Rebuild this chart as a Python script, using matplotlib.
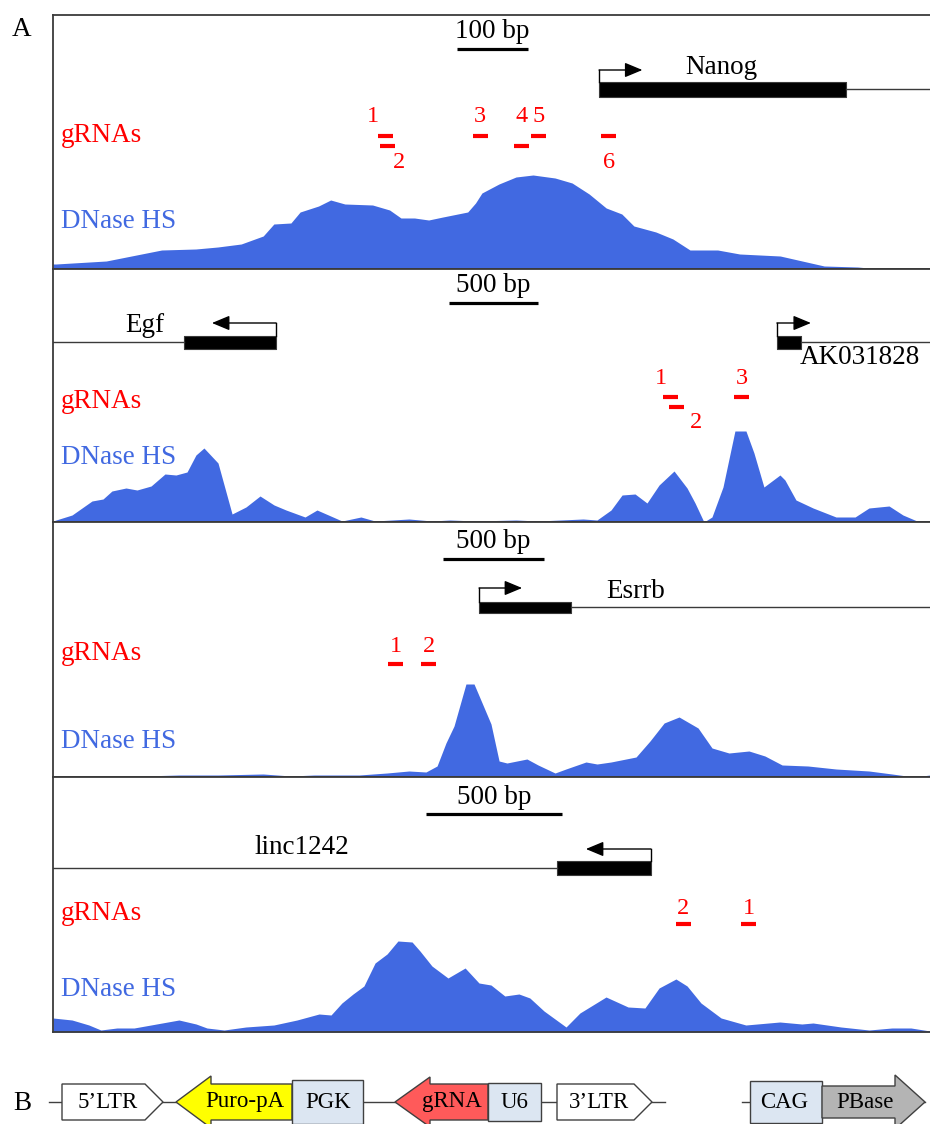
import numpy as np
import matplotlib.pyplot as plt
from matplotlib.patches import Polygon

plt.rcParams['font.family'] = ['Liberation Serif', 'DejaVu Serif']

# ---- panel A: four genomic windows (x in bp from window start, signal in arbitrary units)
spans = [1235, 4927, 4341, 3224]
bar_bp = [100, 500, 500, 500]
bar_start = [569, 2225, 1931, 1371]

sig_x = [
    [0, 4, 75, 153, 201, 232, 265, 296, 311, 335, 348, 374, 391, 411, 450, 474, 490, 509, 529, 549,
     584, 595, 604, 628, 652, 676, 707, 731, 755, 779, 801, 818, 849, 873, 897, 936, 967, 1024, 1055, 1086,
     1133, 1164, 1235],
    [0, 17, 107, 219, 281, 331, 410, 472, 551, 629, 691, 753, 803, 848, 927, 1006, 1084, 1163, 1242, 1309,
     1416, 1483, 1573, 1624, 1730, 1809, 2000, 2129, 2230, 2376, 2601, 2725, 2978, 3056, 3135, 3197, 3270,
     3337, 3405, 3489, 3562, 3607, 3657, 3702, 3764, 3831, 3893, 3938, 3994, 4084, 4112, 4174, 4270, 4399,
     4506, 4584, 4697, 4775, 4854, 4927],
    [0, 15, 262, 624, 817, 1040, 1178, 1292, 1515, 1653, 1762, 1846, 1901, 1945, 1985, 2044, 2084, 2124,
     2168, 2208, 2247, 2346, 2401, 2485, 2539, 2638, 2693, 2762, 2886, 2955, 3025, 3099, 3193, 3262, 3346,
     3445, 3524, 3609, 3737, 3876, 4039, 4153, 4262, 4341],
    [0, 70, 132, 176, 235, 298, 360, 463, 526, 566, 629, 709, 812, 897, 978, 1022, 1062, 1103, 1143, 1184,
     1228, 1268, 1320, 1349, 1393, 1452, 1515, 1566, 1610, 1661, 1713, 1753, 1805, 1886, 1937, 2033, 2114,
     2176, 2228, 2290, 2331, 2382, 2456, 2547, 2672, 2753, 2794, 2897, 3000, 3084, 3154, 3224],
]
sig_y = [
    [5, 5, 8, 19, 20, 22, 25, 33, 45, 46, 57, 63, 69, 65, 64, 59, 51, 51, 49, 52,
     57, 66, 76, 85, 92, 94, 91, 86, 75, 61, 55, 43, 37, 30, 19, 19, 15, 13, 8, 3, 2, 0, 0],
    [1, 2, 7, 21, 23, 31, 34, 32, 36, 48, 47, 50, 67, 74, 59, 8, 15, 26, 17, 12,
     5, 12, 5, 1, 5, 1, 3, 1, 2, 1, 2, 1, 3, 2, 12, 27, 28, 19, 37, 51,
     34, 19, 0, 5, 35, 91, 91, 69, 35, 47, 42, 22, 14, 5, 5, 14, 16, 7, 1, 1],
    [1, 1, 0, 2, 2, 3, 1, 2, 2, 4, 6, 5, 11, 34, 51, 93, 93, 74, 53, 16,
     14, 18, 12, 4, 8, 15, 13, 15, 20, 36, 54, 60, 49, 29, 24, 26, 21, 12, 11, 8, 6, 3, 0, 2],
    [14, 12, 7, 2, 4, 4, 7, 12, 8, 4, 2, 5, 7, 12, 18, 17, 29, 38, 46, 69,
     78, 91, 90, 81, 66, 54, 64, 49, 47, 36, 38, 34, 21, 5, 19, 35, 25, 24, 44, 53,
     46, 29, 14, 7, 10, 8, 9, 5, 2, 4, 4, 1],
]

gene_panel = [0, 1, 1, 2, 3]
gene_names = ['Nanog', 'Egf', 'AK031828', 'Esrrb', 'linc1242']
gene_start = [769, 736, 4067, 2109, 1853]
gene_end = [1117, 1253, 4202, 2564, 2198]
gene_strand = ['+', '-', '+', '+', '-']
gene_arrow_tip = [830, 893, 4258, 2322, 1959]
gene_label_x = [941, 517, 4534, 2886, 915]
gene_label_dy = [22, 17, -16, 16, 20]

grna_panel = [0, 0, 0, 0, 0, 0, 1, 1, 1, 2, 2, 3, 3]
grna_id = ['1', '2', '3', '4', '5', '6', '1', '2', '3', '1', '2', '2', '1']
grna_start = [458, 460, 591, 649, 673, 772, 3427, 3461, 3826, 1658, 1822, 2290, 2529]
grna_row = [0, 1, 0, 1, 0, 0, 0, 1, 0, 0, 0, 0, 0]
grna_lab_pos = ['up', 'down', 'up', 'up', 'up', 'down', 'up', 'down', 'up', 'up', 'up', 'up', 'up']
grna_lab_dx = [-13, 12, 0, 0, 0, 0, -10, 19, 0, 0, 0, 0, 0]

# ---- layout of the panels (pixels)
W, HF = 930, 1124
tops = [15, 269, 522, 777]
bottoms = [269, 522, 777, 1032]
bar_y = [220, 219, 218, 218]
bar_txt_y = [237, 236, 235, 235]
gene_y = [180, 180, 170, 164]
box_half = [7.5, 6.5, 5.5, 7]
row0_y = [133, 125, 113, 108]
lab_up_y = [152, 144, 131, 124]
lab_down_y = [106, 100, 0, 0]
grnas_txt_y = [134, 121, 124, 119]
dnase_txt_y = [47, 65, 36, 43]

BLUE = '#4169E1'
EDGE = '#3a3a3a'
FS = 19.5

fig = plt.figure(figsize=(W / 100, HF / 100), dpi=100)


def px_axes(left, top, right, bottom):
    return fig.add_axes([left / W, 1 - bottom / HF, (right - left) / W, (bottom - top) / HF])


axes = []
for i in range(4):
    ax = px_axes(53, tops[i], W, bottoms[i])
    h = bottoms[i] - tops[i]
    bpp = spans[i] / 877.0
    ax.set_xlim(0, spans[i])
    ax.set_ylim(0, h)
    ax.set_xticks([])
    ax.set_yticks([])
    for s in ['top', 'bottom', 'left']:
        ax.spines[s].set_color(EDGE)
        ax.spines[s].set_linewidth(1.3)
    ax.spines['right'].set_visible(False)

    ax.fill_between(sig_x[i], 0, sig_y[i], color=BLUE, lw=0)

    ax.text(8 * bpp, grnas_txt_y[i], 'gRNAs', color='red', fontsize=FS, va='center')
    ax.text(8 * bpp, dnase_txt_y[i], 'DNase HS', color=BLUE, fontsize=FS, va='center')

    # scale bar
    ax.plot([bar_start[i], bar_start[i] + bar_bp[i]], [bar_y[i]] * 2, color='k', lw=2.3,
            solid_capstyle='butt')
    ax.text(bar_start[i] + bar_bp[i] / 2, bar_txt_y[i], f'{bar_bp[i]} bp', fontsize=FS,
            ha='center', va='center')
    axes.append(ax)

# genes
for g in range(len(gene_names)):
    i = gene_panel[g]
    ax = axes[i]
    y = gene_y[i]
    hb = box_half[i]
    if gene_strand[g] == '+':
        ax.plot([gene_end[g], spans[i]], [y, y], color=EDGE, lw=1)
        tss = gene_start[g]
    else:
        ax.plot([0, gene_start[g]], [y, y], color=EDGE, lw=1)
        tss = gene_end[g]
    ax.fill_between([gene_start[g], gene_end[g]], y - hb, y + hb, color='k', lw=0.8,
                    edgecolor=EDGE)
    ya = y + 19
    ax.plot([tss, tss], [y + hb, ya], color='k', lw=1)
    ax.annotate('', xy=(gene_arrow_tip[g], ya), xytext=(tss, ya),
                arrowprops=dict(arrowstyle='-|>,head_length=0.6,head_width=0.25',
                                mutation_scale=18, color='k', lw=1, shrinkA=0, shrinkB=0))
    ax.text(gene_label_x[g], y + gene_label_dy[g], gene_names[g], fontsize=FS,
            ha='center', va='center')

# gRNAs
for k in range(len(grna_id)):
    i = grna_panel[k]
    ax = axes[i]
    bpp = spans[i] / 877.0
    w = 15 * bpp
    y = row0_y[i] - 10 * grna_row[k]
    ax.plot([grna_start[k], grna_start[k] + w], [y, y], color='red', lw=3,
            solid_capstyle='butt')
    ly = lab_up_y[i] if grna_lab_pos[k] == 'up' else lab_down_y[i]
    ax.text(grna_start[k] + w / 2 + grna_lab_dx[k] * bpp, ly, grna_id[k], color='red',
            fontsize=17.5, ha='center', va='center')

fig.text(22 / W, 1 - 30 / HF, 'A', fontsize=FS, ha='center', va='center')
fig.text(22 / W, 1 - 1103 / HF, 'B', fontsize=FS, ha='center', va='center')

# ---- panel B: vector constructs
b_names = ['5’LTR', 'Puro-pA', 'PGK', 'gRNA', 'U6', '3’LTR', 'CAG', 'PBase']
b_kind = ['ltr', 'left', 'box', 'left', 'box', 'ltr', 'box', 'right']
b_x0 = [62, 176, 292, 395, 488, 557, 750, 822]
b_x1 = [163, 292, 363, 488, 541, 652, 822, 925]
b_half = [18, 18, 22, 18, 19, 18, 21, 16]
b_head = [18, 35, 0, 35, 0, 18, 0, 30]
b_head_half = [0, 26, 0, 25, 0, 0, 0, 27]
b_colors = ['white', '#FFFF00', '#DCE6F2', '#FF5A5A', '#DCE6F2', 'white', '#DCE6F2', '#B4B4B4']
b_text_x = [108, 245, 328, 452, 514, 599, 784, 865]
backbone = [(49, 665), (742, 925)]

axb = fig.add_axes([0, 0, 1, 64 / HF])
axb.set_xlim(0, W)
axb.set_ylim(HF, 1060)
axb.axis('off')
yc = 1102
for a, b in backbone:
    axb.plot([a, b], [yc, yc], color='#404040', lw=1, zorder=1)
for j in range(len(b_names)):
    x0, x1, h, hl, hh = b_x0[j], b_x1[j], b_half[j], b_head[j], b_head_half[j]
    if b_kind[j] == 'box':
        pts = [(x0, yc - h), (x1, yc - h), (x1, yc + h), (x0, yc + h)]
    elif b_kind[j] == 'ltr':
        pts = [(x0, yc - h), (x1 - hl, yc - h), (x1, yc), (x1 - hl, yc + h), (x0, yc + h)]
    elif b_kind[j] == 'left':
        pts = [(x0, yc), (x0 + hl, yc - hh), (x0 + hl, yc - h), (x1, yc - h), (x1, yc + h),
               (x0 + hl, yc + h), (x0 + hl, yc + hh)]
    else:
        pts = [(x0, yc - h), (x1 - hl, yc - h), (x1 - hl, yc - hh), (x1, yc), (x1 - hl, yc + hh),
               (x1 - hl, yc + h), (x0, yc + h)]
    axb.add_patch(Polygon(pts, closed=True, fc=b_colors[j], ec='#404040', lw=1, zorder=2))
    axb.text(b_text_x[j], yc, b_names[j], fontsize=16.5, ha='center', va='center', zorder=3)

fig.savefig('out.png', dpi=100)
